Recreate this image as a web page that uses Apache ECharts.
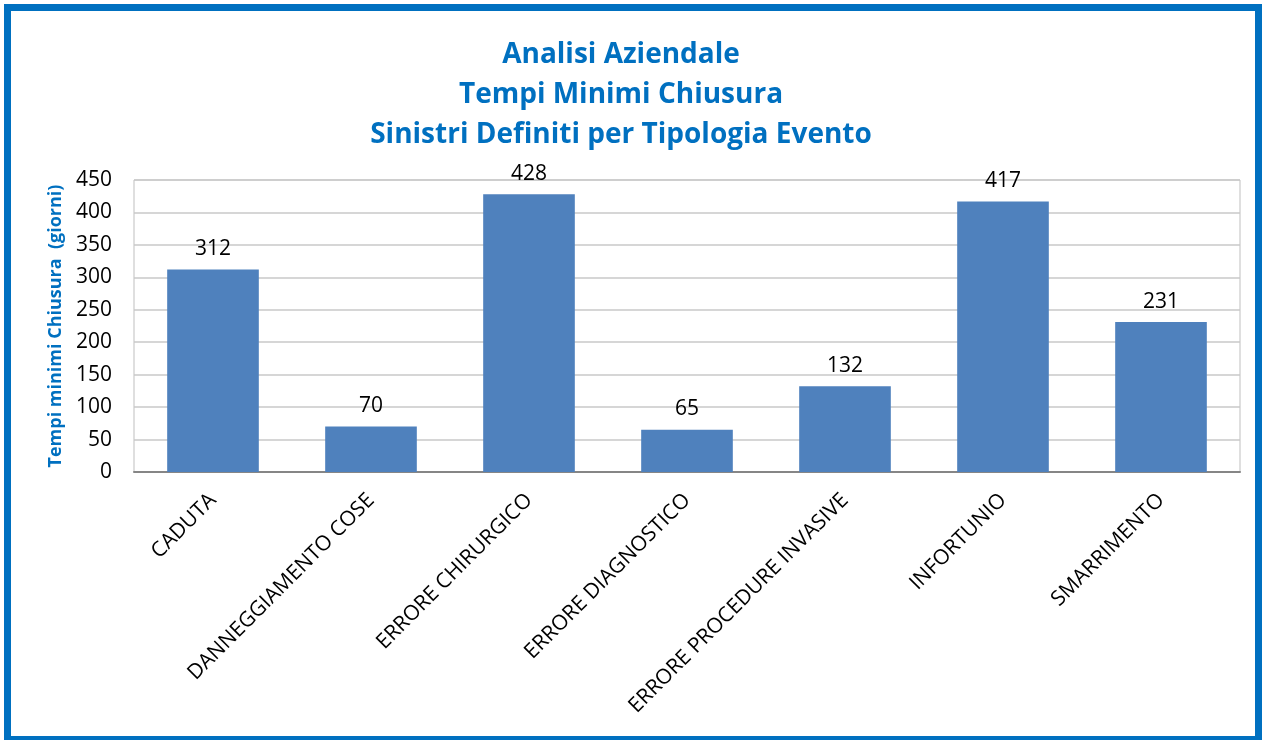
<!DOCTYPE html>
<html>
<head>
<meta charset="utf-8">
<script src="https://cdn.jsdelivr.net/npm/echarts@6/dist/echarts.min.js"></script>
<style>
  html, body { margin: 0; padding: 0; background: #fff; }
  #chart { width: 1266px; height: 740px; }
</style>
</head>
<body>
<div id="chart"></div>
<script>
  const categories = ['CADUTA', 'DANNEGGIAMENTO COSE', 'ERRORE CHIRURGICO', 'ERRORE DIAGNOSTICO',
    'ERRORE PROCEDURE INVASIVE', 'INFORTUNIO', 'SMARRIMENTO']
  const tempiMinimi = [312, 70, 428, 65, 132, 417, 231]
  const titleLines = ['Analisi Aziendale', 'Tempi Minimi Chiusura', 'Sinistri Definiti per Tipologia Evento']
  const yAxisName = 'Tempi minimi Chiusura  (giorni)'

  const blue = '#0070C0'
  const barColor = '#4F81BD'
  const font = 'Open Sans'

  const chart = echarts.init(document.getElementById('chart'))
  chart.setOption({
    animation: false,
    textStyle: { fontFamily: font },
    title: {
      text: titleLines.join('\n'),
      left: 616,
      top: 30,
      textAlign: 'center',
      textStyle: { color: blue, fontSize: 28, fontWeight: 'bold', lineHeight: 40, fontFamily: font }
    },
    graphic: [{
      type: 'rect',
      shape: { x: 7.5, y: 7.5, width: 1251, height: 732 },
      style: { fill: 'none', stroke: blue, lineWidth: 7 },
      silent: true
    }],
    grid: { left: 134, top: 180, right: 26, bottom: 268, show: true, borderColor: '#BFBFBF', borderWidth: 1 },
    xAxis: {
      type: 'category',
      data: categories,
      axisLine: { lineStyle: { color: '#868686', width: 2 } },
      axisTick: { show: false },
      axisLabel: { rotate: 45, color: '#000', fontSize: 21, margin: 25, interval: 0 }
    },
    yAxis: {
      type: 'value',
      min: 0,
      max: 450,
      interval: 50,
      name: yAxisName,
      nameLocation: 'middle',
      nameGap: 68,
      nameTextStyle: { color: blue, fontSize: 18, fontWeight: 'bold' },
      axisLine: { show: false },
      axisTick: { show: false },
      splitLine: { lineStyle: { color: '#C8C8C8', width: 1.5 } },
      axisLabel: { color: '#000', fontSize: 21, margin: 22 }
    },
    series: [{
      type: 'bar',
      data: tempiMinimi,
      barCategoryGap: '42%',
      itemStyle: { color: barColor },
      label: { show: true, position: 'top', distance: 10, color: '#000', fontSize: 21 }
    }]
  })
</script>
</body>
</html>
